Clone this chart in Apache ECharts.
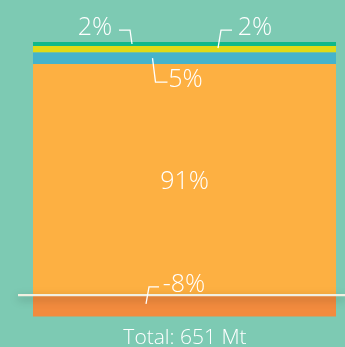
<!DOCTYPE html>
<html>
<head>
<meta charset="utf-8">
<script src="https://cdn.jsdelivr.net/npm/echarts@6/dist/echarts.min.js"></script>
<style>
html,body{margin:0;padding:0;background:#7dcab3;}
#c{width:345px;height:347px;}
</style>
</head>
<body>
<div id="c"></div>
<script>
// ---- data ----
const categories = ['Total'];
const seriesNames = ['Orange', 'Blue', 'Yellow', 'Teal', 'Negative'];
const seriesValues = [91.3, 4.7, 2.4, 1.6, -8.4];
const seriesLabels = ['91%', '5%', '2%', '2%', '-8%'];
const seriesColors = ['#fdb042', '#45b3cb', '#e0da17', '#0fb98a', '#f28b3e'];
const totalLabel = 'Total: 651 Mt';

const chart = echarts.init(document.getElementById('c'), null, {renderer: 'canvas'});
const FONT = '"Open Sans", "Noto Sans", sans-serif';

chart.setOption({
  backgroundColor: '#7dcab3',
  animation: false,
  grid: {left: 33, right: 9, top: 42, bottom: 30},
  xAxis: {type: 'category', data: categories, show: false},
  yAxis: {type: 'value', min: -8.6, max: 100, show: false, splitLine: {show: false}},
  series: seriesNames.map((n, i) => ({
    name: n,
    type: 'bar',
    stack: 'total',
    barWidth: '100%',
    barCategoryGap: 0,
    data: [seriesValues[i]],
    itemStyle: {color: seriesColors[i]}
  }))
});

// segment centers computed through the axis scales
function segCenter(idx) {
  const v = seriesValues[idx];
  let base = 0;
  for (let i = 0; i < idx; i++) {
    if ((seriesValues[i] >= 0) === (v >= 0)) base += seriesValues[i];
  }
  return chart.convertToPixel({gridIndex: 0}, [0, base + v / 2]);
}
const zero = chart.convertToPixel({gridIndex: 0}, [0, 0]);

const lineStyle = {stroke: '#ffffff', lineWidth: 1.3, fill: null};
const textEl = (t, x, y, size) => ({
  type: 'text', x: x, y: y, z: 20,
  style: {text: t, fill: '#ffffff', font: '300 ' + size + 'px ' + FONT, align: 'center', verticalAlign: 'middle'}
});

const elems = [];
// zero line with shadow
elems.push({
  type: 'line', z: 10,
  shape: {x1: 18, y1: zero[1], x2: 345, y2: zero[1]},
  style: {stroke: '#f1f0e2', lineWidth: 2.2, shadowBlur: 8, shadowColor: 'rgba(0,0,0,0.35)', shadowOffsetY: 3}
});

// 91% inside orange
const cO = segCenter(0);
elems.push(textEl(seriesLabels[0], cO[0], cO[1] + 2, 25));
// 5% blue
const cB = segCenter(1);
elems.push({type: 'polyline', z: 11, shape: {points: [[cB[0] - 32, cB[1]], [cB[0] - 29, cB[1] + 24], [cB[0] - 17, cB[1] + 24]]}, style: lineStyle});
elems.push(textEl(seriesLabels[1], cB[0] + 1, cB[1] + 22, 25));
// 2% yellow (right)
const cY = segCenter(2);
elems.push({type: 'polyline', z: 11, shape: {points: [[cY[0] + 33.5, cY[1] - 1], [cY[0] + 36.5, cY[1] - 19], [cY[0] + 47.5, cY[1] - 19]]}, style: lineStyle});
elems.push(textEl(seriesLabels[2], cY[0] + 70.5, cY[1] - 21, 25));
// 2% teal (left)
const cT = segCenter(3);
elems.push({type: 'polyline', z: 11, shape: {points: [[cT[0] - 52.5, cT[1]], [cT[0] - 54.5, cT[1] - 14], [cT[0] - 65.5, cT[1] - 14]]}, style: lineStyle});
elems.push(textEl(seriesLabels[3], cT[0] - 89.5, cT[1] - 16, 25));
// -8% negative
const cN = segCenter(4);
elems.push({type: 'polyline', z: 11, shape: {points: [[cN[0] - 38.5, cN[1] - 2], [cN[0] - 35.5, cN[1] - 19], [cN[0] - 25.5, cN[1] - 19]]}, style: lineStyle});
elems.push(textEl(seriesLabels[4], cN[0] - 0.5, cN[1] - 21, 25));
// total
elems.push(textEl(totalLabel, 185, 338, 21));

chart.setOption({graphic: {elements: elems}});
</script>
</body>
</html>
